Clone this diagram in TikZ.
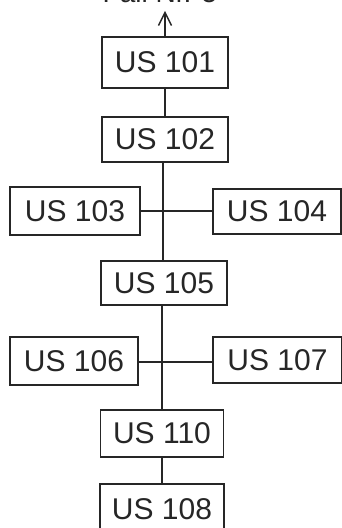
\documentclass[tikz,border=0pt]{standalone}
\usepackage{fontspec}
\setmainfont{Liberation Sans}
\usetikzlibrary{arrows.meta}
\begin{document}
\begin{tikzpicture}[x=1pt,y=1pt,
  usbox/.style={draw=black!85, line width=1.4pt, minimum width=#1, inner sep=0pt,
    font=\fontsize{30}{34}\selectfont, text=black!85},
  link/.style={draw=black!85, line width=1.3pt}]
\useasboundingbox (0,0) rectangle (342,528);
\clip (0,0) rectangle (342,528);
% heading, cut by the top edge
\node[anchor=base, font=\fontsize{28}{32}\selectfont, text=black!85] (head) at (160,525) {Fall Nr. 5};
% units
\node[usbox=126pt, minimum height=51pt] (u101) at (165,465.5) {US 101};
\node[usbox=126pt, minimum height=45pt] (u102) at (165,388.5) {US 102};
\node[usbox=130pt, minimum height=48pt] (u103) at (75,317) {US 103};
\node[usbox=128pt, minimum height=45pt] (u104) at (277,316.5) {US 104};
\node[usbox=126pt, minimum height=44pt] (u105) at (164,245) {US 105};
\node[usbox=128pt, minimum height=48pt] (u106) at (74,167) {US 106};
\node[usbox=129pt, minimum height=46pt] (u107) at (277.5,168) {US 107};
\node[usbox=123pt, minimum height=47pt] (u110) at (162,94.5) {US 110};
\node[usbox=124pt, minimum height=50pt] (u108) at (162,19) {US 108};
% connectors
\coordinate (top) at (165,517);
\draw[link, -{Straight Barb[length=13pt,width=13pt,line width=1.4pt]}] (u101.north) -- (top);
\draw[link] (u101.south) -- (u102.north);
\draw[link] (u102.south -| 163,0) -- (u105.north -| 163,0);
\draw[link] (u103.east) -- (u104.west |- u103.east);
\draw[link] (u105.south -| 162,0) -- (u110.north -| 162,0);
\draw[link] (u106.east |- 0,166) -- (u107.west |- 0,166);
\draw[link] (u110.south) -- (u108.north);
\end{tikzpicture}
\end{document}
